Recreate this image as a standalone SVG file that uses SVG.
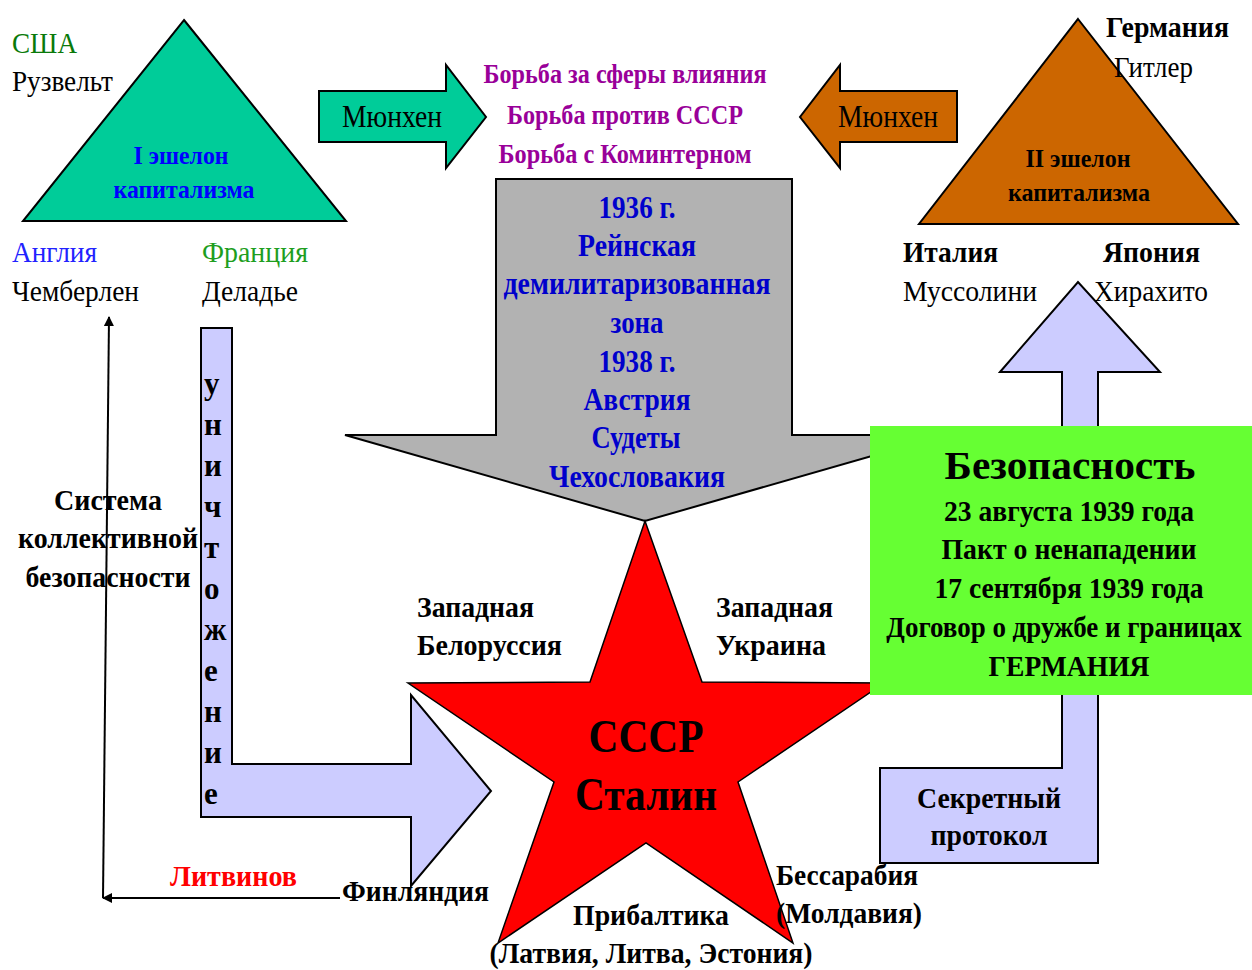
<svg xmlns="http://www.w3.org/2000/svg" width="1252" height="970" viewBox="0 0 1252 970">
<defs>
<style>
text{font-family:"Liberation Serif","Times New Roman",serif;}
.r{font-size:30px;fill:#000;}
.b{font-size:29px;font-weight:bold;fill:#000;}
.m{text-anchor:middle;}
.sh{stroke:#000;stroke-width:2;stroke-linejoin:miter;}
.ln{stroke:#000;stroke-width:2;fill:none;}
</style>
<marker id="ah2" viewBox="0 0 10 10" refX="9" refY="5" markerWidth="12" markerHeight="10" orient="auto" markerUnits="userSpaceOnUse">
<path d="M0,0 L10,5 L0,10 z" fill="#000"/>
</marker>
</defs>
<rect width="1252" height="970" fill="#fff"/>

<g id="tri1">
<polygon class="sh" points="184,20 346,221 23,221" fill="#00CC99"/>
<text x="181" y="164" class="m" font-size="26" font-weight="bold" fill="#0000FF" textLength="95" lengthAdjust="spacingAndGlyphs">I эшелон</text>
<text x="184" y="198" class="m" font-size="26" font-weight="bold" fill="#0000FF" textLength="141" lengthAdjust="spacingAndGlyphs">капитализма</text>
</g>
<g id="usa">
<text x="12" y="53" class="r" style="fill:#0A7A0A" textLength="65" lengthAdjust="spacingAndGlyphs">США</text>
<text x="12" y="91" class="r" textLength="101" lengthAdjust="spacingAndGlyphs">Рузвельт</text>
</g>
<g id="england">
<text x="12" y="262" class="r" style="fill:#2222FF" textLength="85" lengthAdjust="spacingAndGlyphs">Англия</text>
<text x="12" y="301" class="r" textLength="127" lengthAdjust="spacingAndGlyphs">Чемберлен</text>
</g>
<g id="france">
<text x="202" y="262" class="r" style="fill:#1E9E1E" textLength="106" lengthAdjust="spacingAndGlyphs">Франция</text>
<text x="202" y="301" class="r" textLength="96" lengthAdjust="spacingAndGlyphs">Деладье</text>
</g>

<g id="tri2">
<polygon class="sh" points="1078,19 1238,224 919,224" fill="#CC6600"/>
<text x="1078" y="167" class="m" font-size="26" font-weight="bold" fill="#000" textLength="105" lengthAdjust="spacingAndGlyphs">II эшелон</text>
<text x="1079" y="201" class="m" font-size="26" font-weight="bold" fill="#000" textLength="142" lengthAdjust="spacingAndGlyphs">капитализма</text>
</g>
<g id="germany">
<text x="1106" y="37" class="b" textLength="123" lengthAdjust="spacingAndGlyphs">Германия</text>
<text x="1114" y="77" class="r" textLength="79" lengthAdjust="spacingAndGlyphs">Гитлер</text>
</g>

<g id="munich1">
<polygon class="sh" points="319,91 446,91 446,65 486,117 446,168 446,142 319,142" fill="#00CC99"/>
<text x="392" y="127" class="r m" style="font-size:32px" textLength="100" lengthAdjust="spacingAndGlyphs">Мюнхен</text>
</g>
<g id="munich2">
<polygon class="sh" points="957,91 840,91 840,65 800,117 840,168 840,142 957,142" fill="#CC6600"/>
<text x="888" y="127" class="r m" style="font-size:32px" textLength="100" lengthAdjust="spacingAndGlyphs">Мюнхен</text>
</g>

<g id="struggle" font-size="27" font-weight="bold" fill="#990099">
<text x="625" y="83" class="m" textLength="283" lengthAdjust="spacingAndGlyphs">Борьба за сферы влияния</text>
<text x="625" y="124" class="m" textLength="236" lengthAdjust="spacingAndGlyphs">Борьба против СССР</text>
<text x="625" y="163" class="m" textLength="253" lengthAdjust="spacingAndGlyphs">Борьба с Коминтерном</text>
</g>

<g id="grayArrow">
<polygon class="sh" points="496,179 792,179 792,435 945,435 645,521 345,435 496,435" fill="#B2B2B2"/>
<g font-size="31" font-weight="bold" fill="#0000CC">
<text x="637" y="218" class="m" textLength="77" lengthAdjust="spacingAndGlyphs">1936 г.</text>
<text x="637" y="256" class="m" textLength="118" lengthAdjust="spacingAndGlyphs">Рейнская</text>
<text x="637" y="294" class="m" textLength="267" lengthAdjust="spacingAndGlyphs">демилитаризованная</text>
<text x="637" y="333" class="m" textLength="53" lengthAdjust="spacingAndGlyphs">зона</text>
<text x="637" y="372" class="m" textLength="77" lengthAdjust="spacingAndGlyphs">1938 г.</text>
<text x="637" y="410" class="m" textLength="107" lengthAdjust="spacingAndGlyphs">Австрия</text>
<text x="636" y="448" class="m" textLength="89" lengthAdjust="spacingAndGlyphs">Судеты</text>
<text x="637" y="487" class="m" textLength="176" lengthAdjust="spacingAndGlyphs">Чехословакия</text>
</g>
</g>

<g id="star">
<polygon points="645,521 702,682 884,683 738,782 793,943 646,843 498,943 554,782 408,683 590,682" fill="#FF0000" stroke="#000" stroke-width="1.5"/>
<text x="646" y="752" class="m" font-size="46" font-weight="bold" fill="#000" textLength="115" lengthAdjust="spacingAndGlyphs">СССР</text>
<text x="646" y="810" class="m" font-size="46" font-weight="bold" fill="#000" textLength="142" lengthAdjust="spacingAndGlyphs">Сталин</text>
</g>

<g id="destroyArrow">
<polygon class="sh" points="201,328 232,328 232,764 411,764 411,695 491,791 411,886 411,817 201,817" fill="#CCCCFF"/>
<g font-size="31" font-weight="bold" fill="#000">
<text x="204" y="394">у</text>
<text x="204" y="435">н</text>
<text x="204" y="476">и</text>
<text x="204" y="517">ч</text>
<text x="204" y="558">т</text>
<text x="204" y="599">о</text>
<text x="204" y="640">ж</text>
<text x="204" y="681">е</text>
<text x="204" y="722">н</text>
<text x="204" y="763">и</text>
<text x="204" y="804">е</text>
</g>
</g>

<g id="secretArrow">
<polygon class="sh" points="1000,372 1078,282 1160,372 1098,372 1098,863 880,863 880,768 1062,768 1062,372" fill="#CCCCFF"/>
<text x="989" y="808" class="b m" textLength="144" lengthAdjust="spacingAndGlyphs">Секретный</text>
<text x="989" y="845" class="b m" textLength="117" lengthAdjust="spacingAndGlyphs">протокол</text>
</g>

<g id="axis">
<text x="903" y="262" class="b" textLength="95" lengthAdjust="spacingAndGlyphs">Италия</text>
<text x="903" y="301" class="r" textLength="134" lengthAdjust="spacingAndGlyphs">Муссолини</text>
<text x="1103" y="262" class="b" textLength="97" lengthAdjust="spacingAndGlyphs">Япония</text>
<text x="1094" y="301" class="r" textLength="114" lengthAdjust="spacingAndGlyphs">Хирахито</text>
</g>

<g id="security">
<rect x="870" y="426" width="382" height="269" fill="#66FF33"/>
<text x="1070" y="479" class="m" font-size="41" font-weight="bold" fill="#000" textLength="251" lengthAdjust="spacingAndGlyphs">Безопасность</text>
<g font-size="29" font-weight="bold" fill="#000">
<text x="1069" y="521" class="m" textLength="250" lengthAdjust="spacingAndGlyphs">23 августа 1939 года</text>
<text x="1069" y="559" class="m" textLength="255" lengthAdjust="spacingAndGlyphs">Пакт о ненападении</text>
<text x="1069" y="598" class="m" textLength="269" lengthAdjust="spacingAndGlyphs">17 сентября 1939 года</text>
<text transform="translate(1064,637) scale(0.93,1)" x="0" y="0" class="m" font-size="29">Договор о дружбе и границах</text>
<text x="1069" y="676" class="m" textLength="161" lengthAdjust="spacingAndGlyphs">ГЕРМАНИЯ</text>
</g>
</g>

<g id="collective">
<text x="108" y="510" class="b m" textLength="108" lengthAdjust="spacingAndGlyphs">Система</text>
<text x="108" y="548" class="b m" textLength="180" lengthAdjust="spacingAndGlyphs">коллективной</text>
<text x="108" y="587" class="b m" textLength="165" lengthAdjust="spacingAndGlyphs">безопасности</text>
</g>

<g id="regions">
<text x="417" y="617" class="b" textLength="117" lengthAdjust="spacingAndGlyphs">Западная</text>
<text x="417" y="655" class="b" textLength="145" lengthAdjust="spacingAndGlyphs">Белоруссия</text>
<text x="716" y="617" class="b" textLength="117" lengthAdjust="spacingAndGlyphs">Западная</text>
<text x="716" y="655" class="b" textLength="110" lengthAdjust="spacingAndGlyphs">Украина</text>
<text x="342" y="901" class="b" textLength="147" lengthAdjust="spacingAndGlyphs">Финляндия</text>
<text x="651" y="925" class="b m" textLength="156" lengthAdjust="spacingAndGlyphs">Прибалтика</text>
<text x="651" y="963" class="b m" textLength="323" lengthAdjust="spacingAndGlyphs">(Латвия, Литва, Эстония)</text>
<text x="776" y="885" class="b" textLength="142" lengthAdjust="spacingAndGlyphs">Бессарабия</text>
<text x="776" y="923" class="b" textLength="146" lengthAdjust="spacingAndGlyphs">(Молдавия)</text>
</g>

<g id="connectors">
<line class="ln" x1="340" y1="898" x2="103" y2="898" marker-end="url(#ah2)"/>
<line class="ln" x1="103" y1="898" x2="109" y2="317" marker-end="url(#ah2)"/>
</g>
<g id="litvinov">
<text x="170" y="886" class="b" style="fill:#FF0000" textLength="127" lengthAdjust="spacingAndGlyphs">Литвинов</text>
</g>
</svg>
